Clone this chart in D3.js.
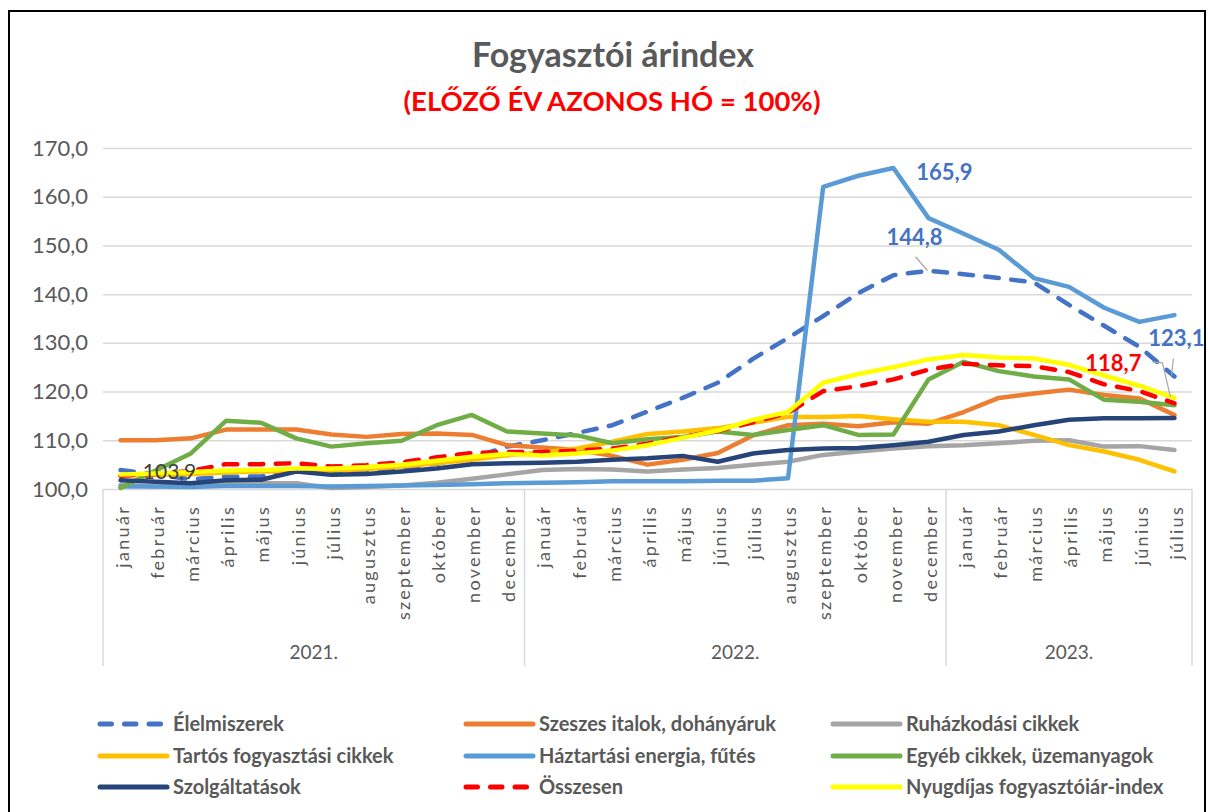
<!DOCTYPE html>
<html>
<head>
<meta charset="utf-8">
<script src="https://cdn.jsdelivr.net/npm/d3@7"></script>
<style>
  body { margin: 0; background: #fff; }
  svg { display: block; font-family: Lato, "Open Sans", sans-serif; }
</style>
</head>
<body>
<svg width="1208" height="812"></svg>
<script>
// month names and years of the category axis
let months = ["január", "február", "március", "április", "május", "június", "július",
    "augusztus", "szeptember", "október", "november", "december"];
let years = ["2021.", "2022.", "2023."];
let monthsPerYear = [12, 12, 7];
let yTicks = [100, 110, 120, 130, 140, 150, 160, 170];

// series values, 2021 január .. 2023 július (előző év azonos hó = 100)
let elelmiszerek = [103.9, 103.0, 102.0, 102.5, 102.6, 103.6, 103.4, 103.8, 104.3, 105.2, 106.4, 108.7,
    110.0, 111.5, 113.1, 115.9, 118.7, 121.8, 126.7, 131.0, 135.5, 140.2, 143.9, 144.8,
    144.1, 143.3, 142.4, 137.8, 133.5, 129.2, 123.1];
let szeszes = [110.0, 110.0, 110.4, 112.2, 112.2, 112.2, 111.2, 110.7, 111.3, 111.4, 111.1, 109.0,
    108.5, 108.0, 106.8, 105.0, 106.0, 107.4, 111.0, 113.1, 113.4, 112.9, 113.7, 113.4,
    115.8, 118.7, 119.6, 120.4, 119.3, 118.6, 115.2];
let ruhazkodasi = [100.8, 100.5, 100.7, 101.0, 101.2, 101.2, 100.2, 100.4, 100.7, 101.3, 102.1, 103.0,
    103.9, 104.1, 104.0, 103.6, 104.0, 104.3, 105.0, 105.6, 107.0, 107.7, 108.3, 108.8,
    109.0, 109.4, 109.9, 110.0, 108.7, 108.8, 108.0];
let tartos = [102.8, 102.9, 103.1, 103.4, 103.6, 103.7, 103.8, 104.1, 104.6, 105.3, 106.0, 106.9,
    107.5, 108.3, 109.7, 111.3, 111.8, 112.5, 113.6, 114.8, 114.8, 115.0, 114.3, 113.8,
    113.8, 113.1, 111.1, 109.0, 107.7, 106.0, 103.6];
let haztartasi = [100.5, 100.5, 100.4, 100.6, 100.6, 100.6, 100.5, 100.6, 100.7, 100.8, 101.0, 101.2,
    101.3, 101.4, 101.6, 101.6, 101.6, 101.7, 101.7, 102.2, 162.0, 164.3, 165.9, 155.6,
    152.4, 149.1, 143.3, 141.5, 137.2, 134.3, 135.7];
let egyeb = [100.2, 103.8, 107.3, 114.0, 113.6, 110.4, 108.7, 109.4, 109.9, 113.1, 115.2, 111.8,
    111.4, 111.0, 109.4, 110.2, 110.7, 111.8, 111.1, 112.1, 113.1, 111.1, 111.2, 122.5,
    126.1, 124.2, 123.1, 122.5, 118.3, 117.9, 117.2];
let szolgaltatasok = [101.8, 101.5, 101.2, 101.8, 101.9, 103.6, 102.9, 103.1, 103.6, 104.2, 105.1, 105.3,
    105.4, 105.6, 106.0, 106.3, 106.8, 105.6, 107.3, 108.0, 108.3, 108.4, 109.0, 109.7,
    111.1, 111.8, 113.1, 114.2, 114.5, 114.5, 114.6];
let osszesen = [102.7, 103.1, 103.7, 105.1, 105.1, 105.3, 104.6, 104.9, 105.5, 106.5, 107.4, 107.6,
    107.6, 107.9, 108.3, 109.3, 110.7, 111.9, 113.7, 115.6, 120.1, 121.1, 122.5, 124.5,
    125.7, 125.4, 125.2, 124.0, 121.5, 120.1, 117.6];
let nyugdijas = [103.0, 103.2, 103.5, 103.8, 103.9, 104.2, 104.2, 104.5, 105.0, 105.8, 106.6, 107.2,
    106.9, 107.3, 107.9, 109.0, 110.5, 112.0, 114.2, 115.8, 121.8, 123.6, 125.0, 126.6,
    127.5, 127.0, 126.8, 125.5, 123.3, 121.2, 118.7];

let series = [
    {name: "Élelmiszerek", values: elelmiszerek, color: "#4472C4", dash: true},
    {name: "Szeszes italok, dohányáruk", values: szeszes, color: "#ED7D31"},
    {name: "Ruházkodási cikkek", values: ruhazkodasi, color: "#A5A5A5"},
    {name: "Tartós fogyasztási cikkek", values: tartos, color: "#FFC000"},
    {name: "Háztartási energia, fűtés", values: haztartasi, color: "#5B9BD5"},
    {name: "Egyéb cikkek, üzemanyagok", values: egyeb, color: "#70AD47"},
    {name: "Szolgáltatások", values: szolgaltatasok, color: "#264478"},
    {name: "Összesen", values: osszesen, color: "#FF0000", dash: true},
    {name: "Nyugdíjas fogyasztóiár-index", values: nyugdijas, color: "#FFFF00"}
];

let svg = d3.select("svg");
let textGray = "#595959";
let gridGray = "#D9D9D9";
let fmt = v => d3.format(".1f")(v).replace(".", ",");

// category list: one entry per month
let cats = [];
years.forEach((yr, yi) => {
    for (let m = 0; m < monthsPerYear[yi]; m++) cats.push({year: yi, month: months[m]});
});

let plotLeft = 103, plotRight = 1192, plotTop = 148, plotBottom = 489;
let x = d3.scalePoint().domain(d3.range(cats.length)).range([plotLeft, plotRight]).padding(0.5);
let step = x.step();
let y = d3.scaleLinear().domain([100, 170]).range([plotBottom, plotTop]);

// frame
svg.append("rect")
    .attr("x", 9).attr("y", 11).attr("width", 1196).attr("height", 820)
    .attr("fill", "none").attr("stroke", "#000").attr("stroke-width", 2);

// titles
svg.append("text")
    .attr("x", 613).attr("y", 67)
    .attr("text-anchor", "middle")
    .attr("font-size", 34).attr("font-weight", "bold")
    .attr("fill", textGray)
    .text("Fogyasztói árindex");
svg.append("text")
    .attr("x", 612).attr("y", 111)
    .attr("text-anchor", "middle")
    .attr("font-size", 27.5).attr("font-weight", "bold")
    .attr("fill", "#FF0000")
    .text("(ELŐZŐ ÉV AZONOS HÓ = 100%)");

// gridlines + y labels
let yAxis = d3.axisLeft(y).tickValues(yTicks).tickSize(-(plotRight - plotLeft)).tickFormat(fmt).tickPadding(15);
let gy = svg.append("g").attr("transform", `translate(${plotLeft},0)`).call(yAxis);
gy.select(".domain").remove();
gy.selectAll(".tick line").attr("stroke", gridGray).attr("stroke-width", 1.5);
gy.selectAll(".tick text")
    .attr("font-size", 22).attr("fill", textGray)
    .attr("font-family", "Lato, sans-serif");

// category axis: month labels
let gx = svg.append("g");
gx.selectAll("text.month")
    .data(cats).enter().append("text")
        .attr("class", "month")
        .attr("transform", (d, i) => `translate(${x(i) + 2},505) rotate(-90)`)
        .attr("dy", "0.35em")
        .attr("text-anchor", "end")
        .attr("font-size", 18)
        .attr("letter-spacing", 2.3)
        .attr("fill", textGray)
        .text(d => d.month);

// year group separators and labels
let bounds = [0];
monthsPerYear.forEach((n, i) => bounds.push(bounds[i] + n));
gx.selectAll("line.sep")
    .data(bounds).enter().append("line")
        .attr("class", "sep")
        .attr("x1", b => plotLeft + b * step).attr("x2", b => plotLeft + b * step)
        .attr("y1", plotBottom).attr("y2", 666)
        .attr("stroke", gridGray).attr("stroke-width", 1.5);
gx.selectAll("text.year")
    .data(years).enter().append("text")
        .attr("class", "year")
        .attr("x", (d, i) => plotLeft + (bounds[i] + bounds[i + 1]) / 2 * step)
        .attr("y", 659)
        .attr("text-anchor", "middle")
        .attr("font-size", 19)
        .attr("fill", textGray)
        .text(d => d);

// lines
let line = d3.line().x((d, i) => x(i)).y(d => y(d));
svg.append("g").selectAll("path")
    .data(series).enter().append("path")
        .attr("d", d => line(d.values))
        .attr("fill", "none")
        .attr("stroke", d => d.color)
        .attr("stroke-width", 4.5)
        .attr("stroke-linejoin", "round")
        .attr("stroke-linecap", "round")
        .attr("stroke-dasharray", d => d.dash ? "13.5,12.5" : null);

// data labels
let labels = [
    {s: 4, i: 22, dx: 51, dy: 12, color: "#4472C4", bold: true},
    {s: 0, i: 23, dx: -14, dy: -26, color: "#4472C4", bold: true, lead: [[-13, -14], [-1, 0]]},
    {s: 0, i: 30, dx: 2, dy: -30, color: "#4472C4", bold: true, lead: [[-1, -18], [-3, -1]]},
    {s: 8, i: 30, dx: -61, dy: -27, color: "#FF0000", bold: true, lead: [[-22, -36], [-12, -35], [-4, -1]]},
    {s: 0, i: 0, dx: 49, dy: 9, color: "#404040", bold: false}
];
let gl = svg.append("g");
labels.forEach(l => {
    let v = series[l.s].values[l.i];
    let px = x(l.i), py = y(v);
    if (l.lead) {
        gl.append("path")
            .attr("d", d3.line()(l.lead.map(p => [px + p[0], py + p[1]])))
            .attr("fill", "none").attr("stroke", "#A6A6A6").attr("stroke-width", 1.2);
    }
    gl.append("text")
        .attr("x", px + l.dx).attr("y", py + l.dy)
        .attr("text-anchor", "middle")
        .attr("font-size", l.bold ? 22 : 21)
        .attr("font-weight", l.bold ? "bold" : "normal")
        .attr("fill", l.color)
        .text(fmt(v));
});

// legend: 3 columns x 3 rows
let colX = [98, 464, 831];
let rowY = [724, 756, 787];
let lg = svg.append("g").selectAll("g")
    .data(series).enter().append("g")
        .attr("transform", (d, i) => `translate(${colX[i % 3]},${rowY[Math.floor(i / 3)]})`);
lg.append("line")
    .attr("x1", 2).attr("x2", 69)
    .attr("stroke", d => d.color)
    .attr("stroke-width", 5)
    .attr("stroke-linecap", "round")
    .attr("stroke-dasharray", d => d.dash ? "11.5,13" : null);
lg.append("text")
    .attr("x", 75).attr("dy", "0.35em")
    .attr("font-size", 20).attr("font-weight", "bold")
    .attr("fill", textGray)
    .text(d => d.name);
</script>
</body>
</html>
